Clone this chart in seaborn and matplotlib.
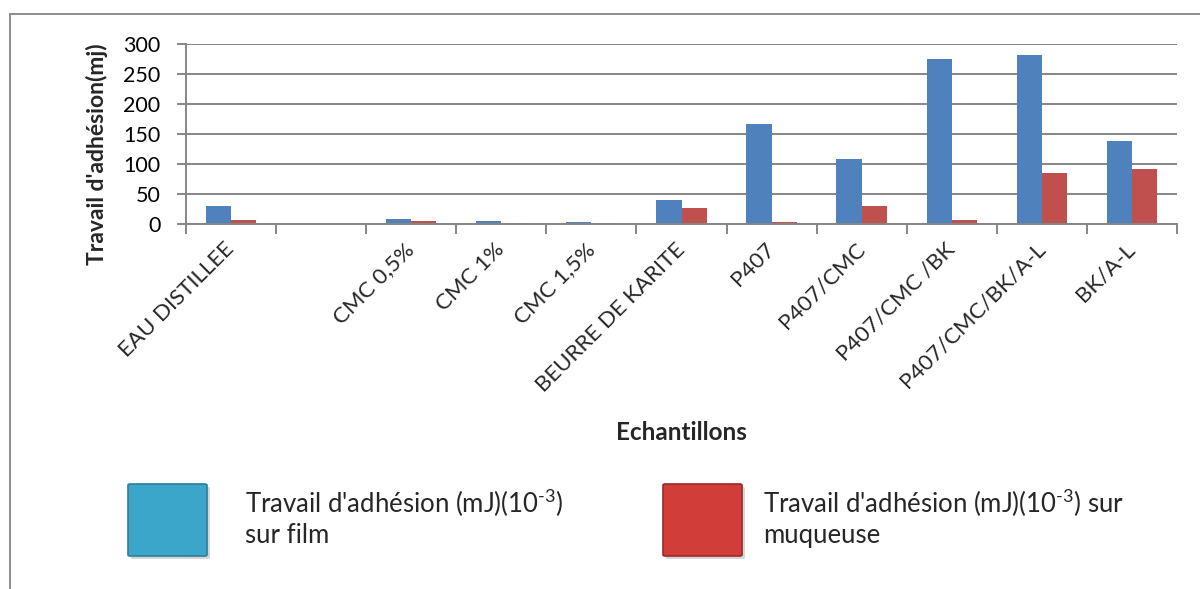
import numpy as np
import pandas as pd
import matplotlib
matplotlib.use("Agg")
import matplotlib.pyplot as plt
from matplotlib.patches import FancyBboxPatch
from matplotlib.lines import Line2D
import seaborn as sns

# --- data -------------------------------------------------------------
categories = ["EAU DISTILLEE", "", "CMC 0,5%", "CMC 1%", "CMC 1,5%",
              "BEURRE DE KARITE", "P407", "P407/CMC", "P407/CMC /BK",
              "P407/CMC/BK/A-L", "BK/A-L"]
film = [30, np.nan, 9, 5, 3, 40, 167, 108, 275, 281, 138]
muqueuse = [6, np.nan, 4.5, 2, 2.5, 27, 3, 30, 7, 85, 92]
series = ["Travail d'adhésion (mJ)(10$^{\\text{-3}}$)\nsur film",
          "Travail d'adhésion (mJ)(10$^{\\text{-3}}$) sur\nmuqueuse"]
yticks = [0, 50, 100, 150, 200, 250, 300]

df = pd.DataFrame({
    "Echantillons": categories * 2,
    "serie": [series[0]] * len(categories) + [series[1]] * len(categories),
    "valeur": film + muqueuse,
}).dropna()

# --- style ------------------------------------------------------------
sns.set_style("white")
plt.rcParams["font.family"] = ["Lato", "DejaVu Sans"]
plt.rcParams["mathtext.fontset"] = "custom"
plt.rcParams["mathtext.rm"] = "Lato"
plt.rcParams["mathtext.default"] = "regular"

W, H = 1200, 589
fig = plt.figure(figsize=(W / 100, H / 100), dpi=100)


def fx(px):
    return px / W


def fy(py):
    return 1 - py / H


ax = fig.add_axes([fx(186), fy(224), fx(1177) - fx(186), fy(44) - fy(224)])

grey = "#868686"
bar_colors = ["#4F81BD", "#C0504D"]

sns.barplot(data=df, x="Echantillons", y="valeur", hue="serie",
            order=categories, hue_order=series, palette=bar_colors,
            saturation=1, width=0.56, gap=0, legend=False, ax=ax,
            linewidth=0, err_kws={"linewidth": 0})

ax.set_xlim(-0.5, len(categories) - 0.5)
ax.set_ylim(0, 300)
ax.set_yticks(yticks)
ax.yaxis.grid(True, color=grey, linewidth=1.4)
ax.set_axisbelow(True)
for s in ["top", "right"]:
    ax.spines[s].set_visible(False)
for s in ["left", "bottom"]:
    ax.spines[s].set_color(grey)
    ax.spines[s].set_linewidth(1.4)

ax.tick_params(axis="y", length=6.5, width=1.4, color=grey, pad=12,
               labelsize=15.5, labelcolor="black", left=True)
ax.set_xticks(range(len(categories)))
ax.set_xticks(np.arange(-0.5, len(categories), 1.0), minor=True)
ax.tick_params(axis="x", which="major", length=0, pad=16, labelsize=16)
ax.tick_params(axis="x", which="minor", length=7.2, width=1.4, color=grey,
               bottom=True)
ax.set_xticklabels(categories, rotation=45, ha="right", va="center",
                   rotation_mode="anchor")

ax.set_ylabel("Travail d'adhésion(mj)", fontsize=16.5, fontweight="bold",
              va="center")
ax.yaxis.set_label_coords((97 - 186) / 991, (224 - 154) / 180)
ax.set_xlabel("")
fig.text(fx(681), fy(433), "Echantillons", fontsize=17.5, fontweight="bold",
         ha="center", va="center")

# --- chart frame ------------------------------------------------------
fig.add_artist(Line2D([fx(10), 1.0], [fy(14), fy(14)],
                      transform=fig.transFigure, color="#8c8c8c", lw=1.4))
fig.add_artist(Line2D([fx(10), fx(10)], [fy(14), 0.0],
                      transform=fig.transFigure, color="#8c8c8c", lw=1.4))

# --- legend -----------------------------------------------------------
legend_boxes = [(128, 484, "#3BA6CA", "#2B7E9C", 245),
                (663, 484, "#D13D38", "#9A2A26", 763)]
for (x0, y0, fc, ec, tx), label in zip(legend_boxes, series):
    shadow = FancyBboxPatch((fx(x0 + 3), fy(y0 + 72 + 3)), fx(79), 72 / H,
                            boxstyle="round,pad=0,rounding_size=0.002",
                            transform=fig.transFigure, facecolor="#bbbbbb",
                            edgecolor="none", alpha=0.6)
    fig.add_artist(shadow)
    box = FancyBboxPatch((fx(x0), fy(y0 + 72)), fx(79), 72 / H,
                         boxstyle="round,pad=0,rounding_size=0.002",
                         transform=fig.transFigure, facecolor=fc,
                         edgecolor=ec, linewidth=1.2)
    fig.add_artist(box)
    fig.text(fx(tx), fy(518), label, fontsize=18.5, ha="left", va="center",
             linespacing=1.2)

fig.savefig("out.png", dpi=100)
